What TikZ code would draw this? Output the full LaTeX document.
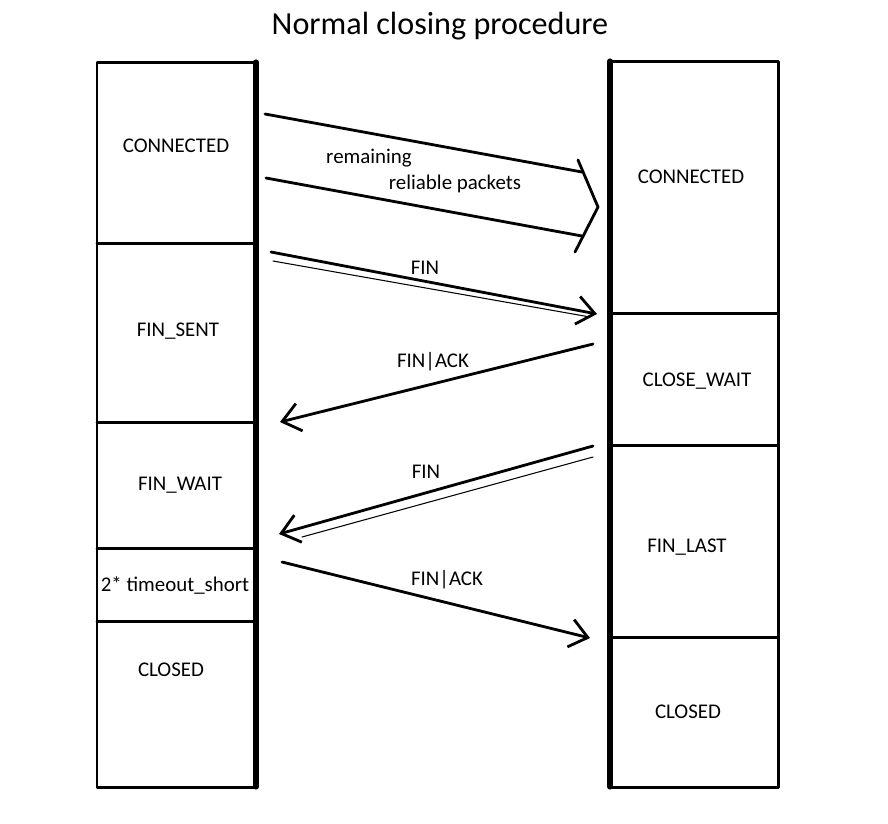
\documentclass[tikz,border=0pt]{standalone}
\usepackage{fontspec}
\setmainfont{Carlito}
\usetikzlibrary{arrows.meta}
\tikzset{
    cell/.style = {line width=1.7pt},
    lifeline/.style = {line width=2.9pt},
    msg/.style = {line width=1.6pt, -{Straight Barb[length=10pt,width=16pt,line width=1.6pt]}},
    echo/.style = {line width=0.6pt},
    state/.style = {font=\fontsize{11.9}{14}\selectfont, inner sep=0pt},
}

\begin{document}
\begin{tikzpicture}[line cap=round,line join=round,x=0.02cm,y=-0.02cm]
\useasboundingbox (0,0) rectangle (888,823);
\node[font=\fontsize{18.3}{21}\selectfont] (title) at (440,26) {Normal closing procedure};
% sender side
\draw [cell] (97,62) rectangle (256,787);
\draw [lifeline] (256,62) -- (256,787);
\draw [cell] (97,243) -- (256,243);
\draw [cell] (97,422) -- (256,422);
\draw [cell] (97,548) -- (256,548);
\draw [cell] (97,621) -- (256,621);
\node[state] (sconn) at (176,146) {CONNECTED};
\node[state] (ssent) at (178,331) {FIN\_SENT};
\node[state] (swait) at (180,485) {FIN\_WAIT};
\node[state] (stime) at (175,585) {2* timeout\_short};
\node[state] (sclos) at (171,670) {CLOSED};
% receiver side
\draw [cell] (610,61) rectangle (778,787);
\draw [lifeline] (610,61) -- (610,787);
\draw [cell] (610,313) -- (778,313);
\draw [cell] (610,445) -- (778,445);
\draw [cell] (610,637) -- (778,637);
\node[state] (rconn) at (691,177) {CONNECTED};
\node[state] (rclwt) at (697,381) {CLOSE\_WAIT};
\node[state] (rlast) at (687,547) {FIN\_LAST};
\node[state] (rclos) at (688,712) {CLOSED};
% message ends
\coordinate (data1a) at (265,114);
\coordinate (data1b) at (582,172);
\coordinate (data2a) at (266,178);
\coordinate (data2b) at (582,236);
\coordinate (brtop) at (578,160);
\coordinate (brtip) at (598,207);
\coordinate (brbot) at (575,252);
\coordinate (fin1a) at (271,252);
\coordinate (fin1b) at (597,314);
\coordinate (fin1c) at (273,261);
\coordinate (fin1d) at (590,317);
\coordinate (ack1a) at (593,344);
\coordinate (ack1b) at (280,422);
\coordinate (fin2a) at (593,446);
\coordinate (fin2b) at (279,534);
\coordinate (fin2c) at (593,457);
\coordinate (fin2d) at (302,537);
\coordinate (ack2a) at (282,562);
\coordinate (ack2b) at (590,638);
% messages
\draw [line width=1.6pt] (data1a) -- (data1b);
\draw [line width=1.6pt] (data2a) -- (data2b);
\draw [line width=1.6pt] (brtop) -- (brtip) -- (brbot);
\node[state] (rem) at (369,158) {remaining};
\node[state] (rel) at (455,184) {reliable packets};
\draw [msg] (fin1a) -- (fin1b);
\draw [echo] (fin1c) -- (fin1d);
\node[state] (fin1) at (425,268) {FIN};
\draw [msg] (ack1a) -- (ack1b);
\node[state] (ack1) at (433,362) {FIN|ACK};
\draw [msg] (fin2a) -- (fin2b);
\draw [echo] (fin2c) -- (fin2d);
\node[state] (fin2) at (426,472) {FIN};
\draw [msg] (ack2a) -- (ack2b);
\node[state] (ack2) at (447,580) {FIN|ACK};
\end{tikzpicture}
\end{document}
